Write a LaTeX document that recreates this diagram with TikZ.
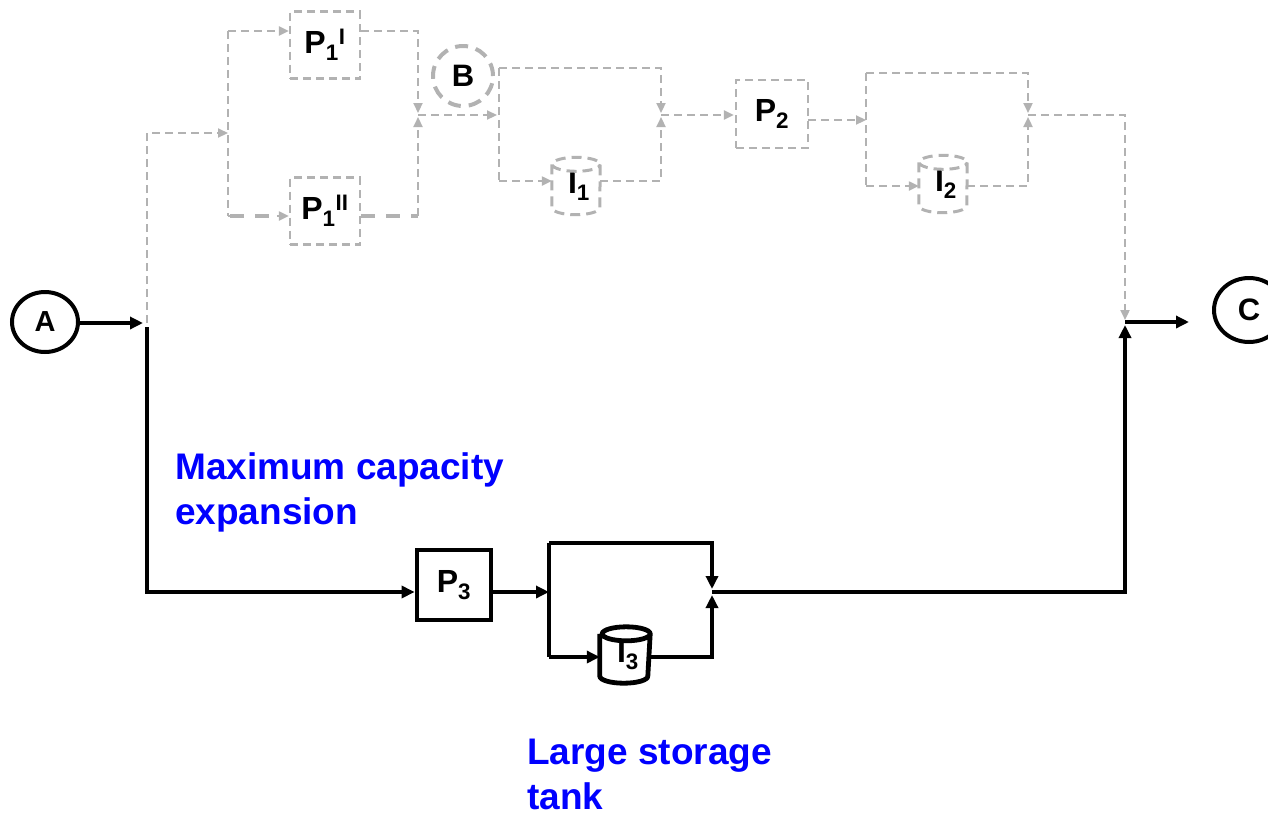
\documentclass[tikz,border=0pt]{standalone}
\usepackage{fontspec}
\setmainfont{Liberation Sans}
\usetikzlibrary{arrows.meta,shapes.geometric,calc}
\definecolor{lg}{RGB}{178,178,178}
\definecolor{bl}{RGB}{0,0,255}
\newcommand\cylpath[2]{%
  \draw[#2] ($(#1.north west)+(0,7)$) -- ($(#1.south west)+(0,-7)$)
    arc[start angle=180,end angle=360,x radius=24pt,y radius=7pt]
    -- ($(#1.north east)+(0,7)$)
    arc[start angle=0,end angle=360,x radius=24pt,y radius=7pt];}
\begin{document}
\begin{tikzpicture}[x=1pt,y=-1pt,
  gr/.style={draw=lg,line width=2.2pt,dash pattern=on 8pt off 5pt},
  grt/.style={draw=lg,line width=4.5pt,dash pattern=on 14pt off 11pt},
  blk/.style={draw=black,line width=4.8pt},
  gtip/.style={-{Triangle[length=10pt,width=9pt]}},
  btip/.style={-{Triangle[length=13pt,width=12pt]}},
  lbl/.style={font=\fontsize{32}{32}\selectfont\bfseries,text=black},
  gbox/.style={gr,lbl,minimum width=70pt,minimum height=67pt,inner sep=0pt},
  cyl/.style={lbl,minimum width=48pt,minimum height=57pt,inner sep=0pt},
  term/.style={ellipse,draw=black,line width=4pt,inner sep=0pt,font=\fontsize{29}{29}\selectfont\bfseries},
  note/.style={text=bl,font=\fontsize{37}{45}\selectfont\bfseries,align=left,anchor=north west,inner sep=0pt}
]
\useasboundingbox (0,0) rectangle (1268,817);

% terminals
\node[term,minimum width=66pt,minimum height=60pt] (A) at (45,322) {A};
\node[term,minimum width=70pt,minimum height=64pt,font=\fontsize{31}{31}\selectfont\bfseries] (C) at (1249,310) {C};

% coordinates
\coordinate (jA) at (147,323);
\coordinate (jAb) at (147,327);
\coordinate (jAd) at (147,592);
\coordinate (g0) at (147,133);
\coordinate (g1) at (228,133);
\coordinate (s1t) at (228,31);
\coordinate (s1b) at (228,216);
\coordinate (m1t) at (418,31);
\coordinate (m1b) at (418,216);
\coordinate (M1) at (418,115);
\coordinate (b1tl) at (499,68);
\coordinate (b1bl) at (499,181);
\coordinate (b1tr) at (661,68);
\coordinate (b1br) at (661,181);
\coordinate (b1in) at (499,115);
\coordinate (M2) at (661,115);
\coordinate (p2o) at (808,120);
\coordinate (b2in) at (866,120);
\coordinate (b2tl) at (866,73);
\coordinate (b2bl) at (866,186);
\coordinate (b2tr) at (1028,73);
\coordinate (b2br) at (1028,186);
\coordinate (M3) at (1028,115);
\coordinate (rt) at (1125,115);
\coordinate (jC) at (1125,322);
\coordinate (jCb) at (1125,592);
\coordinate (cE) at (1189,322);
\coordinate (b3in) at (549,592);
\coordinate (b3tl) at (549,543);
\coordinate (b3bl) at (549,657);
\coordinate (b3tr) at (712,543);
\coordinate (b3br) at (712,657);
\coordinate (M4) at (712,592);

% gray nodes
\node[gbox] (P1a) at (325,45) {P\textsubscript{1}\textsuperscript{I}};
\node[gbox] (P1b) at (325,211) {P\textsubscript{1}\textsuperscript{II}};
\node[circle,draw=lg,line width=4pt,dash pattern=on 13pt off 8pt,minimum size=60pt,inner sep=0pt,lbl,font=\fontsize{31}{31}\selectfont\bfseries] (B) at (463,76) {B};
\node[gbox,minimum width=72pt,minimum height=68pt] (P2) at (772,114) {P\textsubscript{2}};
\node[cyl] (I1) at (576,186) {\raisebox{-16pt}{\hspace{6pt}I\textsubscript{1}}};
\cylpath{I1}{gr,dash pattern=on 10pt off 6pt,line width=3pt}
\node[cyl] (I2) at (943,184) {\raisebox{-16pt}{\hspace{6pt}I\textsubscript{2}}};
\cylpath{I2}{gr,dash pattern=on 10pt off 6pt,line width=3pt}

% black nodes
\node[draw=black,line width=4.8pt,lbl,minimum width=74pt,minimum height=70pt,inner sep=0pt] (P3) at (454,585) {P\textsubscript{3}};
\node[cyl,minimum width=50pt,minimum height=56pt] (I3) at (625,655) {\raisebox{-14pt}{\hspace{6pt}I\textsubscript{3}}};
\cylpath{I3}{blk}

% gray connectors
\draw[gr,gtip] (jA) -- (g0) -- (g1);
\draw[gr] (s1t) -- (s1b);
\draw[gr,gtip] (s1t) -- (P1a.west |- s1t);
\draw[gr] (s1b) -- ++(6,0);
\draw[grt] ($(s1b)+(2,0)$) -- ($(P1b.west |- s1b)+(-16,0)$);
\draw[draw=lg,gtip,line width=2pt] ($(P1b.west |- s1b)+(-12,0)$) -- (P1b.west |- s1b);
\draw[gr,gtip,shorten >=2pt] (P1a.east |- s1t) -- (m1t) -- (M1);
\draw[grt] (P1b.east |- m1b) -- (m1b);
\draw[gr,gtip,shorten >=2pt] (m1b) -- (M1);
\draw[gr,gtip,shorten >=2pt] (M1) -- (b1in);
\draw[gr] (b1tl) -- (b1bl);
\draw[gr,gtip,shorten >=2pt] (b1tl) -- (b1tr) -- (M2);
\draw[gr,gtip] (b1bl) -- (I1.west |- b1bl);
\draw[gr,gtip,shorten >=2pt] (I1.east |- b1br) -- (b1br) -- (M2);
\draw[gr,gtip,shorten >=1pt] (M2) -- (P2.west |- M2);
\draw[gr,gtip] (p2o) -- (b2in);
\draw[gr] (b2tl) -- (b2bl);
\draw[gr,gtip,shorten >=2pt] (b2tl) -- (b2tr) -- (M3);
\draw[gr,gtip] (b2bl) -- (I2.west |- b2bl);
\draw[gr,gtip,shorten >=2pt] (I2.east |- b2br) -- (b2br) -- (M3);
\draw[gr,gtip,shorten >=2pt] (M3) -- (rt) -- (jC);

% black connectors
\draw[blk,btip,shorten >=4pt] (A.east |- jA) -- (jA);
\draw[blk,btip] (jAb) -- (jAd) -- (P3.west |- jAd);
\draw[blk,btip] (P3.east |- b3in) -- (b3in);
\draw[blk] (b3tl) -- (b3bl);
\draw[blk,btip,shorten >=3pt] (b3tl) -- (b3tr) -- (M4);
\draw[blk,btip] (b3bl) -- (I3.west |- b3bl);
\draw[blk,btip,shorten >=3pt] (I3.east |- b3br) -- (b3br) -- (M4);
\draw[blk,btip,shorten >=3pt] (M4) -- (jCb) -- (jC);
\draw[blk,btip] (jC) -- (cE);

% notes
\node[note] (n1) at (175,452) {Maximum capacity\\expansion};
\node[note] (n2) at (527,739) {Large storage\\tank};
\end{tikzpicture}
\end{document}
